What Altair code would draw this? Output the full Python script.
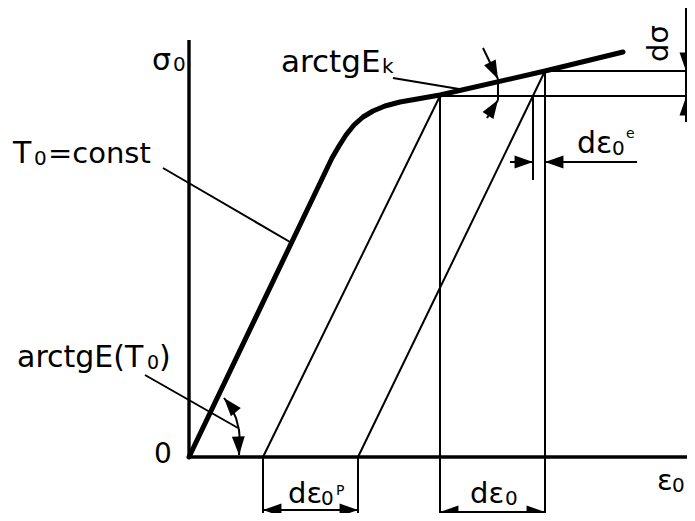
import altair as alt
import pandas as pd

# ---- schematic data (reference pixel coordinates of the diagram) ----
# loading curve sigma0(eps0) at T0=const
curve_x = [189, 332, 339, 346, 354, 363, 373, 385, 400, 440, 545, 623]
curve_y = [457, 158, 146, 135, 125, 117, 111, 106, 102, 95, 71, 52]

# axes
axes_x1 = [189, 189]
axes_y1 = [40, 457]
axes_x2 = [189, 695]
axes_y2 = [457, 457]

# thin segments: x1, y1, x2, y2
seg_x1 = [440, 545, 440, 545, 440, 545, 533, 263, 358, 686, 498,
          163, 145, 393, 263, 440, 510, 545, 483, 487]
seg_y1 = [96, 71, 95, 71, 96, 71, 97, 457, 457, 8, 79,
          168, 375, 78, 510, 512, 162, 162, 48, 118]
seg_x2 = [695, 695, 440, 545, 263, 358, 533, 263, 358, 686, 498,
          290, 238, 465, 358, 545, 533, 637, 498, 498]
seg_y2 = [96, 71, 521, 521, 457, 457, 180, 521, 521, 122, 100,
          242, 428, 90, 510, 512, 162, 162, 79, 100]

# angle arc for arctgE(T0)
arc_x = [224, 231, 236, 239, 240, 239]
arc_y = [398, 407, 418, 430, 442, 455]

# arrowheads: tip position and direction (degrees clockwise from up)
arr_x = [263, 358, 440, 545, 533, 545, 686, 686, 498, 498, 224, 239]
arr_y = [510, 510, 512, 512, 162, 162, 71, 97, 79, 100, 398, 455]
arr_a = [270, 90, 270, 90, 90, 270, 180, 0, 154, 33, 320, 178]

# labels: text, left x, baseline y, font size
lab_t = ["σ", "0", "0", "T", "0", "=const", "arctgE", "k",
         "arctgE(T", "0", ")", "dε", "0", "e",
         "dε", "0", "P", "dε", "0", "ε", "0"]
lab_x = [152, 173, 154, 13, 34, 48, 281, 382,
         17, 147, 159, 577, 612, 626,
         288, 321, 336, 470, 505, 657, 672]
lab_y = [70, 71, 463, 163, 165, 163, 72, 73,
         367, 369, 367, 153, 155, 138,
         503, 505, 495, 503, 505, 490, 492]
lab_s = [30, 20, 28, 30, 20, 29, 31, 20,
         30, 19, 30, 30, 20, 14,
         29, 20, 14, 29, 20, 29, 20]

rot_t = ["dσ"]
rot_x = [668]
rot_y = [62]

# ---- build tables ----
curve = pd.DataFrame({"x": curve_x, "y": curve_y, "o": range(len(curve_x))})
axes = pd.DataFrame({"x": [axes_x1[0], axes_x2[0]], "y": [axes_y1[0], axes_y2[0]],
                     "x2": [axes_x1[1], axes_x2[1]], "y2": [axes_y1[1], axes_y2[1]]})
segs = pd.DataFrame({"x": seg_x1, "y": seg_y1, "x2": seg_x2, "y2": seg_y2})
arc = pd.DataFrame({"x": arc_x, "y": arc_y, "o": range(len(arc_x))})
arrows = pd.DataFrame({"x": arr_x, "y": arr_y, "a": arr_a})
labels = pd.DataFrame({"t": lab_t, "x": lab_x, "y": lab_y, "s": lab_s})
rot = pd.DataFrame({"t": rot_t, "x": rot_x, "y": rot_y})

W, H = 679, 505
xs = alt.Scale(domain=[8, 8 + W], nice=False, zero=False)
ys = alt.Scale(domain=[8, 8 + H], nice=False, zero=False, reverse=True)
X = lambda f="x": alt.X(f"{f}:Q", scale=xs, axis=None)
Y = lambda f="y": alt.Y(f"{f}:Q", scale=ys, axis=None)

FONT = "DejaVu Sans"

axes_l = alt.Chart(axes).mark_rule(color="black", strokeWidth=3.4).encode(
    x=X(), y=Y(), x2="x2:Q", y2="y2:Q")
segs_l = alt.Chart(segs).mark_rule(color="black", strokeWidth=2).encode(
    x=X(), y=Y(), x2="x2:Q", y2="y2:Q")
curve_l = alt.Chart(curve).mark_line(color="black", strokeWidth=5,
                                     strokeJoin="round", strokeCap="round").encode(
    x=X(), y=Y(), order="o:Q")
arc_l = alt.Chart(arc).mark_line(color="black", strokeWidth=2).encode(
    x=X(), y=Y(), order="o:Q")
arr_l = alt.Chart(arrows).mark_point(
    shape="M0,0L-0.7,2L0.7,2Z", filled=True, color="black", opacity=1,
    size=340, strokeWidth=0).encode(
    x=X(), y=Y(), angle=alt.Angle("a:Q", scale=None))
lab_l = alt.Chart(labels).mark_text(
    align="left", baseline="alphabetic", font=FONT, color="black").encode(
    x=X(), y=Y(), text="t:N", size=alt.Size("s:Q", scale=None))
rot_l = alt.Chart(rot).mark_text(
    align="left", baseline="alphabetic", font=FONT, color="black",
    fontSize=29, angle=270).encode(x=X(), y=Y(), text="t:N")

chart = alt.layer(axes_l, segs_l, arc_l, curve_l, arr_l, lab_l, rot_l).properties(
    width=W, height=H, padding=0, autosize="none", background="white"
).configure_view(stroke=None)

chart.save("out.html", embed_options={"renderer": "svg", "actions": False})
